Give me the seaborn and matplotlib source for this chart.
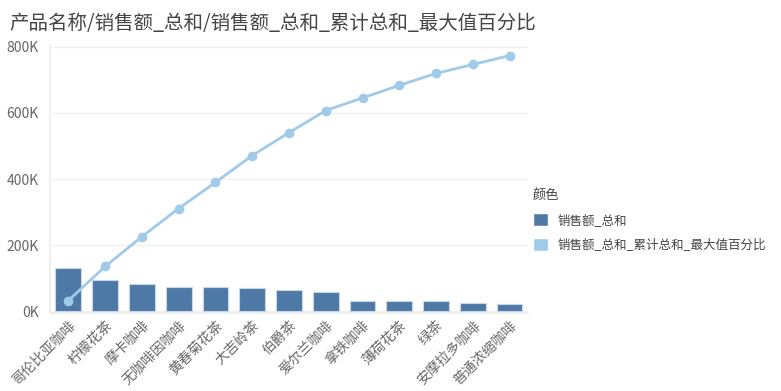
import numpy as np
import pandas as pd
import matplotlib
matplotlib.use('Agg')
import matplotlib.pyplot as plt
import matplotlib.ticker as mticker
from matplotlib.patches import Patch
import seaborn as sns

products = ['哥伦比亚咖啡', '柠檬花茶', '摩卡咖啡', '无咖啡因咖啡', '黄春菊花茶', '大吉岭茶',
            '伯爵茶', '爱尔兰咖啡', '拿铁咖啡', '薄荷花茶', '绿茶', '安摩拉多咖啡', '普通浓缩咖啡']
sales = [130000, 96000, 82000, 75000, 75000, 72000, 65000, 59000, 32000, 32000, 32000, 26000, 23000]
cum_pct = [33000, 136000, 226000, 311000, 390000, 471000, 540000, 607000, 645000, 683000, 719000, 746000, 773000]

bar_color = '#4e79a7'
line_color = '#a0cbe8'

sns.set_theme(style='white')
plt.rcParams['font.family'] = ['Noto Sans CJK SC', 'DejaVu Sans']

df = pd.DataFrame({'产品名称': products, '销售额_总和': sales, '累计': cum_pct})

fig = plt.figure(figsize=(7.81, 3.91), dpi=100)
ax = fig.add_axes([0.064, 0.2, 0.612, 0.685])

sns.barplot(data=df, x='产品名称', y='销售额_总和', color=bar_color, saturation=1,
            width=0.7, edgecolor='#c9d8e8', linewidth=0.8, ax=ax, zorder=2)
sns.lineplot(x=np.arange(len(products)), y=df['累计'], color=line_color, linewidth=2,
             marker='o', markersize=7, markeredgewidth=0, ax=ax, zorder=3)

ax.set_xlim(-0.5, len(products) - 0.5)
ax.set_ylim(-4000, 805000)
ax.set_yticks([0, 200000, 400000, 600000, 800000])
ax.yaxis.set_major_formatter(mticker.FuncFormatter(lambda v, p: f'{int(v / 1000)}K'))
ax.grid(axis='y', color='#f0f0f0', linewidth=1)
ax.set_axisbelow(True)
for s in ['top', 'right']:
    ax.spines[s].set_visible(False)
ax.spines['left'].set_color('#eeeeee')
ax.spines['bottom'].set_color('#eeeeee')
ax.set_xlabel('')
ax.set_ylabel('')
ax.tick_params(axis='y', colors='#666666', labelsize=10, length=0, pad=8)
ax.tick_params(axis='x', colors='#666666', labelsize=10, length=3, color='#e0e0e0', pad=1)
plt.setp(ax.get_xticklabels(), rotation=45, ha='right', rotation_mode='anchor')

handles = [Patch(facecolor=bar_color, label='销售额_总和'),
           Patch(facecolor=line_color, label='销售额_总和_累计总和_最大值百分比')]
leg = fig.legend(handles=handles, title='颜色', loc='upper left', bbox_to_anchor=(0.668, 0.545),
                 frameon=False, fontsize=9, title_fontsize=9.5, handlelength=1.2, handleheight=1.2,
                 labelspacing=0.9, alignment='left', labelcolor='#444444')
leg.get_title().set_color('#444444')

fig.text(0.012, 0.94, '产品名称/销售额_总和/销售额_总和_累计总和_最大值百分比', fontsize=14,
         color='#444444', va='center')

fig.savefig('out.png', dpi=100)
